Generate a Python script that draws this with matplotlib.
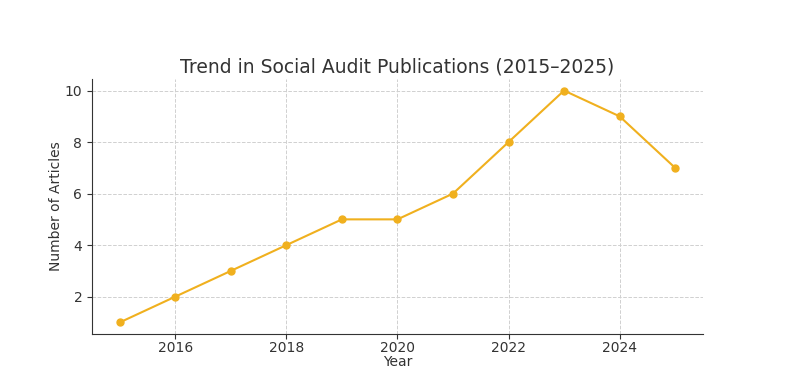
import matplotlib
matplotlib.use("Agg")
import matplotlib.pyplot as plt

years = [2015, 2016, 2017, 2018, 2019, 2020, 2021, 2022, 2023, 2024, 2025]
articles = [1, 2, 3, 4, 5, 5, 6, 8, 10, 9, 7]

fig = plt.figure(figsize=(8.07, 3.68), dpi=100)
ax = fig.add_axes([0.114, 0.0924, 0.757, 0.693])
ax.plot(years, articles, color='#f0b01e', marker='o', markersize=5, linewidth=1.5)
ax.set_title("Trend in Social Audit Publications (2015\u20132025)", fontsize=13.5, color='#333333', pad=5)
ax.set_xlabel("Year", fontsize=10, color='#333333', labelpad=0)
ax.set_ylabel("Number of Articles", fontsize=10, color='#333333', labelpad=1)
ax.set_xticks([2016, 2018, 2020, 2022, 2024])
ax.set_yticks([2, 4, 6, 8, 10])
ax.tick_params(labelsize=10, colors='#333333')
ax.tick_params(axis='x', pad=1.5)
ax.grid(True, linestyle='--', color='#d0d0d0', linewidth=0.7)
ax.spines['top'].set_visible(False)
ax.spines['right'].set_visible(False)
ax.spines['left'].set_color('#333333')
ax.spines['bottom'].set_color('#333333')
fig.savefig("out.png", dpi=100)
